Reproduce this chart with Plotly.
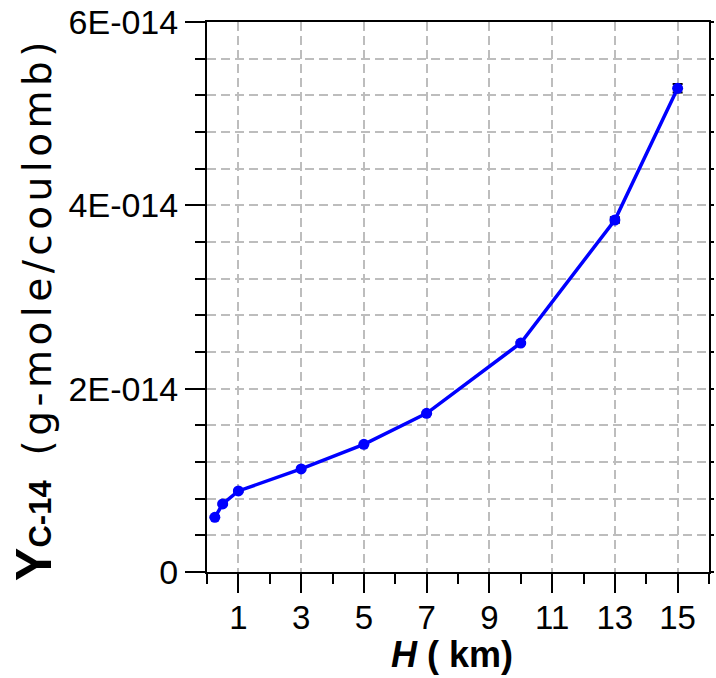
import plotly.graph_objects as go

H_km = [0.25, 0.5, 1, 3, 5, 7, 10, 13, 15]
Y_c14 = [0.597e-14, 0.742e-14, 0.884e-14, 1.124e-14, 1.393e-14, 1.731e-14, 2.498e-14, 3.84e-14, 5.277e-14]
Y_err = [0.008e-14, 0.008e-14, 0.008e-14, 0.008e-14, 0.008e-14, 0.01e-14, 0.01e-14, 0.03e-14, 0.047e-14]

x_tickvals = [1, 3, 5, 7, 9, 11, 13, 15]
y_tickvals = [0, 2e-14, 4e-14, 6e-14]
y_ticktext = ["0", "2E-014", "4E-014", "6E-014"]

FONT = "Liberation Sans, Arial, sans-serif"
GRID = "#bdbdbd"

fig = go.Figure()
fig.add_trace(go.Scatter(
    x=H_km, y=Y_c14, mode="lines+markers",
    line=dict(color="#0000ff", width=3.5),
    marker=dict(color="#0000ff", size=11, symbol="circle"),
    error_y=dict(type="data", array=Y_err, color="black", thickness=2, width=5),
    showlegend=False, hoverinfo="skip",
))
# invisible trace to carry the right-hand tick axis
fig.add_trace(go.Scatter(x=H_km, y=Y_c14, yaxis="y2", mode="markers",
                         marker=dict(opacity=0), showlegend=False, hoverinfo="skip"))

fig.update_layout(
    width=716, height=678,
    margin=dict(l=207, r=3, t=22, b=106),
    plot_bgcolor="white", paper_bgcolor="white",
    font=dict(family=FONT, size=34, color="black"),
    xaxis=dict(
        range=[0, 16], tickmode="array", tickvals=x_tickvals,
        ticks="outside", ticklen=19, tickwidth=2, tickcolor="black",
        showline=True, linewidth=2, linecolor="black", mirror=True,
        showgrid=True, gridcolor=GRID, gridwidth=1.5, griddash="9px,5px",
        zeroline=False, ticklabelstandoff=-4,
        minor=dict(tick0=0, dtick=2, ticks="outside", ticklen=10, tickwidth=2,
                   tickcolor="black", showgrid=False),
        tickfont=dict(size=33),
    ),
    yaxis=dict(
        range=[0, 6e-14], tickmode="array", tickvals=y_tickvals, ticktext=y_ticktext,
        ticks="outside", ticklen=20, tickwidth=2, tickcolor="black",
        showline=True, linewidth=2, linecolor="black", mirror=True,
        showgrid=True, gridcolor=GRID, gridwidth=1.5, griddash="9px,5px",
        zeroline=False,
        minor=dict(tick0=0, dtick=0.4e-14, ticks="outside", ticklen=10, tickwidth=2,
                   tickcolor="black", showgrid=True, gridcolor=GRID, gridwidth=1.5,
                   griddash="9px,5px"),
        tickfont=dict(size=34),
    ),
    yaxis2=dict(
        overlaying="y", side="right", range=[0, 6e-14],
        tickmode="linear", tick0=0, dtick=0.4e-14,
        ticks="outside", ticklen=4, tickwidth=2, tickcolor="black",
        showticklabels=False, showgrid=False, showline=False, zeroline=False,
    ),
    annotations=[
        dict(
            text=('<span style="font-family:Liberation Sans;font-weight:bold;font-size:50px">Y</span>'
                  '<span style="font-family:Liberation Sans;font-weight:bold;font-size:31px">C-14</span>'
                  '&nbsp;&nbsp;<span style="letter-spacing:4.5px">(g-mole/coulomb)</span>'),
            xref="paper", yref="paper", x=-0.345, y=0.478,
            xanchor="center", yanchor="middle", textangle=-90, showarrow=False,
            font=dict(size=39, family="DejaVu Sans"),
        ),
        dict(
            text="<b><i>H</i> ( km)</b>",
            xref="paper", yref="paper", x=0.488, y=-0.15,
            xanchor="center", yanchor="middle", showarrow=False,
            font=dict(size=36, family=FONT),
        ),
    ],
)

fig.write_html("out.html")
